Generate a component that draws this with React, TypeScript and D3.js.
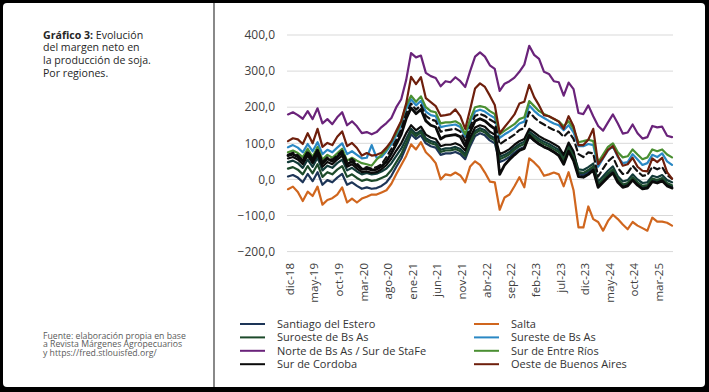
import React from "react";
import * as d3 from "d3";

const monthNames = ["ene", "feb", "mar", "abr", "may", "jun", "jul", "ago", "sep", "oct", "nov", "dic"];
const categories: string[] = (() => {
  const out: string[] = [];
  let m = 11, y = 18;
  for (let k = 0; k < 79; k++) {
    out.push(`${monthNames[m]}-${y}`);
    m++;
    if (m === 12) { m = 0; y++; }
  }
  return out;
})();

const tickLabels = ["dic-18", "may-19", "oct-19", "mar-20", "ago-20", "ene-21", "jun-21", "nov-21", "abr-22", "sep-22", "feb-23", "jul-23", "dic-23", "may-24", "oct-24", "mar-25"];
const yTicks = [400, 300, 200, 100, 0, -100, -200];

const santiago = [8, 12, 5, -8, 15, -5, 20, -15, -2, -8, 5, 15, -15, -8, -18, -26, -22, -26, -24, -18, -8, 10, 35, 58, 90, 125, 112, 122, 100, 92, 88, 68, 72, 72, 76, 70, 56, 92, 120, 128, 122, 108, 100, 48, 54, 62, 74, 84, 90, 118, 108, 98, 90, 84, 76, 68, 46, 80, 56, 14, 12, 20, 30, -20, -5, 10, 22, -5, -20, -16, 0, -14, -24, -22, -4, -8, -2, -16, -22];
const salta = [-27, -20, -35, -60, -34, -46, -20, -70, -57, -52, -42, -22, -64, -53, -64, -53, -48, -42, -42, -36, -30, -12, 15, 40, 65, 97, 83, 103, 75, 62, 45, 0, 14, 11, 19, 11, -8, 36, 50, 40, 19, -6, -8, -84, -50, -42, -19, 6, -22, 58, 47, 33, 10, 14, 19, 14, -19, 20, -30, -133, -133, -75, -110, -118, -142, -115, -98, -110, -125, -138, -118, -128, -135, -142, -106, -117, -117, -120, -128];
const suroeste = [30, 34, 27, 14, 37, 17, 42, 7, 20, 14, 27, 37, 7, 14, 4, -4, 0, -4, -2, 4, 10, 26, 48, 70, 100, 133, 120, 130, 108, 100, 96, 76, 80, 80, 84, 78, 64, 100, 128, 136, 130, 116, 108, 56, 62, 70, 82, 92, 98, 126, 116, 106, 98, 92, 84, 76, 54, 88, 64, 20, 18, 26, 36, -14, 1, 16, 28, 1, -14, -10, 6, -8, -18, -16, 2, -2, 4, -10, -16];
const sureste = [89, 95, 88, 75, 98, 78, 103, 70, 82, 75, 88, 100, 70, 78, 68, 58, 60, 95, 60, 62, 78, 98, 122, 150, 195, 222, 205, 218, 188, 178, 175, 145, 148, 150, 152, 145, 118, 158, 188, 193, 188, 178, 170, 115, 125, 133, 142, 155, 160, 205, 190, 178, 170, 162, 155, 150, 136, 150, 130, 92, 92, 98, 95, 35, 58, 80, 92, 62, 45, 48, 70, 55, 40, 45, 68, 62, 72, 50, 40];
const norte = [180, 186, 178, 168, 189, 167, 197, 155, 167, 153, 172, 186, 150, 161, 147, 128, 131, 125, 131, 145, 156, 170, 200, 222, 275, 350, 338, 343, 295, 286, 281, 258, 272, 269, 283, 272, 256, 300, 340, 352, 340, 316, 306, 245, 265, 272, 282, 298, 318, 370, 345, 334, 298, 292, 272, 269, 232, 268, 250, 184, 181, 205, 175, 148, 135, 158, 180, 155, 127, 130, 152, 128, 113, 117, 148, 144, 146, 121, 117];
const entreRios = [75, 80, 73, 62, 85, 62, 90, 55, 68, 60, 72, 85, 52, 60, 52, 45, 42, 38, 55, 68, 83, 105, 128, 160, 205, 232, 215, 230, 200, 189, 186, 155, 158, 158, 161, 153, 125, 167, 200, 203, 200, 189, 181, 125, 135, 144, 153, 167, 172, 217, 203, 189, 181, 175, 167, 161, 147, 161, 140, 103, 106, 110, 106, 47, 69, 90, 100, 75, 61, 64, 83, 69, 56, 61, 83, 78, 83, 69, 61];
const cordoba = [66, 70, 63, 50, 74, 54, 80, 44, 57, 50, 63, 74, 42, 50, 38, 28, 30, 26, 28, 36, 50, 72, 98, 125, 168, 198, 182, 194, 162, 150, 145, 112, 120, 122, 124, 118, 92, 132, 162, 168, 162, 150, 140, 14, 40, 55, 68, 80, 86, 122, 108, 98, 90, 84, 76, 66, 42, 78, 52, 8, 6, 14, 26, -22, -8, 6, 18, -8, -22, -18, -2, -16, -26, -24, -6, -10, -4, -18, -24];
const oeste = [106, 114, 111, 98, 128, 100, 140, 90, 101, 95, 118, 133, 92, 101, 87, 66, 73, 66, 68, 74, 88, 106, 135, 162, 210, 284, 264, 283, 225, 214, 203, 176, 178, 181, 194, 175, 140, 194, 252, 266, 256, 232, 206, 128, 145, 162, 180, 210, 215, 262, 228, 205, 178, 175, 168, 160, 140, 175, 147, 95, 95, 110, 140, 42, 60, 82, 92, 65, 38, 42, 60, 35, 24, 22, 58, 48, 60, 20, 2];
const extraDashed = [68, 74, 67, 54, 77, 57, 82, 49, 61, 54, 67, 79, 49, 57, 44, 30, 34, 30, 34, 42, 62, 85, 110, 138, 182, 210, 193, 206, 176, 166, 162, 132, 136, 138, 140, 133, 106, 146, 176, 181, 176, 166, 158, 97, 107, 115, 124, 137, 142, 187, 172, 160, 152, 144, 137, 132, 118, 132, 112, 70, 62, 75, 72, 8, 30, 50, 62, 32, 15, 18, 38, 22, 10, 12, 35, 28, 34, 12, 2];
const extraTeal = [48, 52, 45, 32, 55, 35, 60, 25, 38, 32, 45, 55, 25, 32, 22, 14, 18, 14, 16, 22, 30, 45, 65, 85, 112, 140, 126, 136, 114, 106, 102, 82, 86, 86, 90, 84, 70, 106, 134, 142, 136, 122, 114, 62, 68, 76, 88, 98, 104, 132, 122, 112, 104, 98, 90, 82, 60, 94, 70, 28, 26, 34, 44, -6, 9, 24, 36, 9, -6, -2, 14, 0, -10, -8, 10, 6, 12, -2, -8];
const extraBlack = [58, 62, 55, 42, 66, 45, 70, 35, 48, 42, 55, 66, 35, 42, 30, 20, 22, 18, 20, 28, 40, 58, 80, 100, 128, 150, 136, 146, 124, 116, 112, 92, 96, 96, 100, 94, 80, 116, 144, 150, 146, 132, 124, 70, 76, 84, 96, 106, 112, 140, 130, 120, 112, 106, 98, 90, 68, 102, 78, 16, 14, 22, 32, -18, -3, 12, 24, -3, -18, -14, 2, -12, -22, -20, -2, -6, 0, -14, -20];

type Series = { name: string; values: number[]; color: string; width: number; dash?: string; legend: boolean };

const series: Series[] = [
  { name: "Serie A", values: extraTeal, color: "#123a38", width: 2.2, legend: false },
  { name: "Serie B", values: extraBlack, color: "#0b0b0b", width: 2.2, legend: false },
  { name: "Santiago del Estero", values: santiago, color: "#1d3557", width: 2.2, legend: true },
  { name: "Salta", values: salta, color: "#d0661e", width: 2.2, legend: true },
  { name: "Suroeste de Bs As", values: suroeste, color: "#1c4a2a", width: 2.2, legend: true },
  { name: "Sureste de Bs As", values: sureste, color: "#2a88c4", width: 2.2, legend: true },
  { name: "Norte de Bs As / Sur de StaFe", values: norte, color: "#6a237a", width: 2.2, legend: true },
  { name: "Sur de Entre Ríos", values: entreRios, color: "#4a8f32", width: 2.2, legend: true },
  { name: "Serie C", values: extraDashed, color: "#111111", width: 2.2, dash: "6,4", legend: false },
  { name: "Sur de Cordoba", values: cordoba, color: "#0a0a0a", width: 2.8, legend: true },
  { name: "Oeste de Buenos Aires", values: oeste, color: "#6e1f0c", width: 2.2, legend: true },
];

const legendOrder = ["Santiago del Estero", "Salta", "Suroeste de Bs As", "Sureste de Bs As", "Norte de Bs As / Sur de StaFe", "Sur de Entre Ríos", "Sur de Cordoba", "Oeste de Buenos Aires"];

const FONT = "'Open Sans', 'Noto Sans', sans-serif";

export default function App() {
  const x = d3.scalePoint<string>().domain(categories).range([288, 672]);
  const y = d3.scaleLinear().domain([-200, 400]).range([251.6, 35]);
  const line = d3.line<number>().x((_, i) => x(categories[i]) as number).y((d) => y(d));

  return (
    <svg width={709} height={392} style={{ position: "absolute", left: 0, top: 0 }} fontFamily={FONT}>
      <rect x={0} y={0} width={709} height={392} fill="#000" />
      <rect x={3} y={3} width={702} height={384} rx={4} fill="#fff" />
      <line x1={214} x2={214} y1={3} y2={387} stroke="#3a3a3a" strokeWidth={1.2} />

      <text x={43} y={38.5} fontSize={10.6} fill="#262626">
        <tspan fontWeight="bold">Gráfico 3:</tspan> Evolución
      </text>
      <text x={43} y={51.2} fontSize={10.6} fill="#262626">del margen neto en</text>
      <text x={43} y={63.9} fontSize={10.6} fill="#262626">la producción de soja.</text>
      <text x={43} y={76.6} fontSize={10.6} fill="#262626">Por regiones.</text>

      <text x={43} y={338.5} fontSize={8.7} fill="#5a5a5a">Fuente: elaboración propia en base</text>
      <text x={43} y={347.3} fontSize={8.7} fill="#5a5a5a">a Revista Márgenes Agropecuarios</text>
      <text x={43} y={356.1} fontSize={8.7} fill="#5a5a5a">y https://fred.stlouisfed.org/</text>

      {yTicks.map((t) => (
        <g key={t}>
          <line x1={287} x2={673} y1={y(t)} y2={y(t)} stroke="#d9d9d9" strokeWidth={1} />
          <text x={275} y={y(t)} dy="0.35em" textAnchor="end" fontSize={12} fill="#404040">
            {d3.format(".1f")(t).replace(".", ",")}
          </text>
        </g>
      ))}

      {tickLabels.map((lab) => {
        const px = x(lab) as number;
        return (
          <text key={lab} transform={`translate(${px},263) rotate(-90)`} textAnchor="end" dy="0.5em" fontSize={11.5} fill="#404040">
            {lab}
          </text>
        );
      })}

      {series.map((s) => (
        <path key={s.name} d={line(s.values) || ""} fill="none" stroke={s.color} strokeWidth={s.width}
          strokeDasharray={s.dash} strokeLinejoin="round" strokeLinecap="round" />
      ))}

      {legendOrder.map((name, k) => {
        const s = series.find((q) => q.name === name)!;
        const col = k % 2;
        const row = Math.floor(k / 2);
        const lx = col === 0 ? 240 : 474;
        const ly = 324 + row * 13.4;
        return (
          <g key={name}>
            <line x1={lx} x2={lx + 25} y1={ly} y2={ly} stroke={s.color} strokeWidth={2} />
            <text x={lx + 37} y={ly} dy="0.35em" fontSize={11} fill="#333">{name}</text>
          </g>
        );
      })}
    </svg>
  );
}
